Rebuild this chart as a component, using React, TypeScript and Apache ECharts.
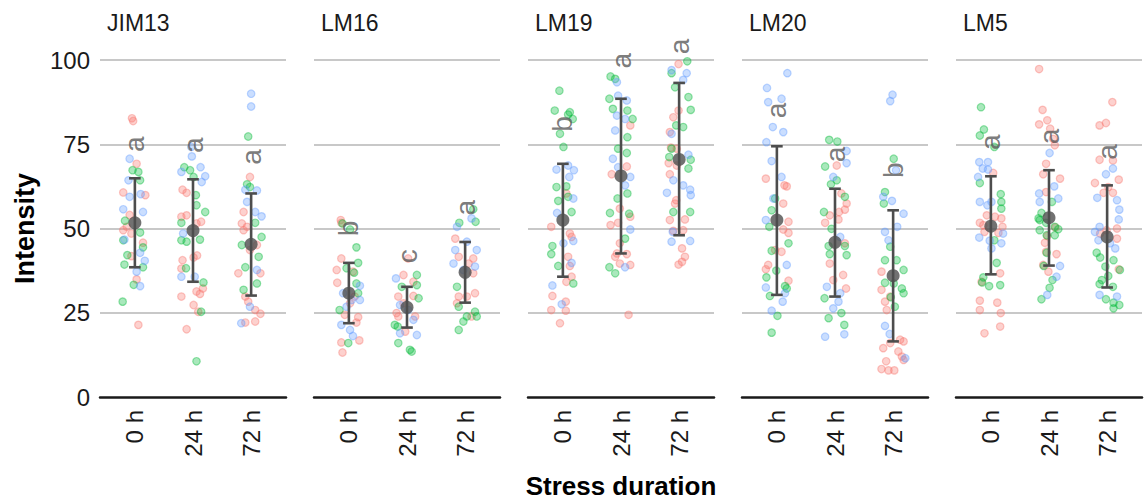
import React, { useEffect, useRef } from "react";
import * as echarts from "echarts";

const FONT = '"Liberation Sans", Arial, Helvetica, sans-serif';

const facets = ["JIM13", "LM16", "LM19", "LM20", "LM5"];
const times = ["0 h", "24 h", "72 h"];
const yTicks = [0, 25, 50, 75, 100];

// [time index, replicate colour index (0 red, 1 green, 2 blue), jitter offset, intensity]
const jim13Points = [
  [0,0,-0.05,82.7],[0,0,-0.03,81.9],[0,2,-0.09,70.7],[0,0,0.03,69.2],[0,1,-0.04,67.3],[0,1,0.06,66.8],
  [0,2,-0.11,64.3],[0,1,0.09,64.3],[0,0,-0.2,60.7],[0,2,-0.09,59.4],[0,2,0.1,60.2],[0,0,0.18,59.9],
  [0,2,-0.2,55.7],[0,2,0.14,54.9],[0,0,-0.09,54.0],[0,1,-0.17,52.3],[0,0,-0.14,50.5],[0,0,-0.2,49.5],
  [0,1,0.09,48.8],[0,0,-0.06,48.5],[0,1,-0.2,46.5],[0,2,-0.18,46.7],[0,0,0.14,45.8],[0,1,0.14,44.4],
  [0,2,0.09,42.8],[0,0,-0.06,41.8],[0,1,-0.13,42.1],[0,1,-0.18,39.3],[0,2,0.17,40.4],[0,1,0.14,38.5],
  [0,2,0.03,37.2],[0,0,0.03,34.9],[0,1,-0.02,33.3],[0,2,0.09,32.9],[0,1,-0.21,28.3],[0,0,0.06,21.4],
  [1,2,-0.03,74.2],[1,2,-0.02,71.4],[1,1,-0.15,68.2],[1,2,0.13,68.2],[1,1,-0.05,67.3],[1,2,-0.2,66.8],
  [1,2,0.21,65.5],[1,2,0.15,63.8],[1,1,0.01,65.3],[1,0,-0.18,61.5],[1,0,-0.11,60.6],[1,1,0.05,59.9],
  [1,1,0.06,56.9],[1,1,0.21,54.9],[1,0,-0.2,53.5],[1,0,-0.11,53.9],[1,0,0.14,52.0],[1,1,-0.2,51.7],
  [1,0,0.06,51.5],[1,2,-0.17,48.5],[1,1,-0.2,46.5],[1,1,-0.11,46.1],[1,1,0.12,46.7],[1,0,-0.18,40.6],
  [1,0,0.01,41.4],[1,0,0.07,42.0],[1,1,-0.12,38.2],[1,0,-0.2,38.1],[1,2,-0.2,35.7],[1,2,0.03,35.7],
  [1,1,0.18,34.0],[1,0,0.17,32.2],[1,0,0.06,31.3],[1,0,0.12,30.6],[1,0,-0.2,29.8],[1,0,0.01,27.3],
  [1,0,0.09,25.3],[1,1,0.14,25.3],[1,0,-0.11,20.1],[1,1,0.06,10.6],
  [2,2,0,90.0],[2,2,0,86.2],[2,1,-0.05,77.3],[2,0,-0.02,65.3],[2,1,-0.07,63.1],[2,1,-0.02,62.3],
  [2,2,-0.1,61.5],[2,2,0.1,61.3],[2,2,-0.07,57.9],[2,0,-0.13,54.9],[2,2,0.07,54.9],[2,2,0.18,53.6],
  [2,0,-0.16,51.5],[2,0,-0.07,50.5],[2,1,0.07,51.7],[2,0,-0.13,49.5],[2,1,0.18,47.5],[2,0,0.1,45.1],
  [2,1,-0.16,45.1],[2,0,-0.02,43.6],[2,1,0.13,41.6],[2,0,-0.22,36.7],[2,1,-0.1,38.5],[2,2,0.1,37.7],
  [2,0,0.16,36.7],[2,1,-0.13,31.8],[2,1,0.1,33.7],[2,0,-0.1,29.8],[2,0,-0.05,28.3],[2,2,-0.02,26.8],
  [2,0,0.07,25.8],[2,0,0.16,24.7],[2,2,-0.17,21.9],[2,0,-0.1,22.1],[2,0,0.07,22.4],
];

const lm16Points = [
  [0,0,-0.14,52.5],[0,0,-0.13,51.7],[0,1,-0.11,51.5],[0,1,0.02,49.7],[0,1,0.13,44.4],[0,0,-0.13,41.1],
  [0,1,0.16,39.8],[0,0,-0.21,37.7],[0,1,-0.04,38.2],[0,0,0.07,37.2],[0,1,0.09,36.9],[0,0,-0.2,33.9],
  [0,1,0.13,33.7],[0,2,0.19,33.0],[0,2,-0.1,30.8],[0,1,0.16,30.8],[0,0,0.1,29.8],[0,2,0.05,28.8],
  [0,2,0.19,28.8],[0,0,0.02,27.8],[0,2,-0.04,26.8],[0,1,-0.16,25.8],[0,0,-0.07,24.4],[0,0,0.16,23.7],
  [0,0,0.13,22.1],[0,2,-0.13,21.4],[0,2,0.02,19.9],[0,2,0.07,18.1],[0,0,-0.13,16.2],[0,0,0.18,16.8],
  [0,1,-0.01,16.0],[0,0,-0.11,13.2],
  [1,0,0.02,41.1],[1,2,-0.19,35.2],[1,0,-0.06,36.2],[1,1,0.17,36.2],[1,0,0.11,34.2],[1,1,-0.09,32.7],
  [1,1,0.17,33.2],[1,0,-0.15,29.8],[1,0,0.11,30.0],[1,2,-0.12,27.3],[1,0,-0.06,27.8],[1,1,0.2,29.3],
  [1,2,0.02,25.8],[1,0,-0.18,24.9],[1,0,-0.15,23.9],[1,0,0.14,23.9],[1,2,0.11,22.9],[1,1,-0.21,21.4],
  [1,1,-0.16,20.9],[1,2,-0.12,18.9],[1,2,0.17,18.4],[1,0,-0.03,19.4],[1,1,-0.15,16.0],[1,1,0.05,14.0],
  [1,1,0.08,13.5],
  [2,1,0.14,55.7],[2,1,-0.1,51.7],[2,1,0.18,52.0],[2,2,0.11,53.0],[2,2,-0.14,50.5],[2,0,-0.17,47.0],
  [2,2,0.03,46.1],[2,2,-0.17,43.6],[2,2,0.2,43.6],[2,0,0.14,41.1],[2,0,-0.11,41.6],[2,2,-0.2,39.6],
  [2,0,0.06,39.6],[2,2,0.17,38.7],[2,2,-0.03,37.7],[2,0,0.14,36.7],[2,1,-0.14,32.7],[2,0,-0.14,27.8],
  [2,0,-0.11,29.8],[2,0,0.03,29.8],[2,0,0.17,30.8],[2,1,-0.11,26.8],[2,1,0.17,25.3],[2,1,0.2,23.9],
  [2,0,0.11,23.9],[2,1,0.03,23.9],[2,1,-0.03,22.4],[2,1,-0.11,19.9],
];

const lm19Points = [
  [0,1,-0.06,90.9],[0,1,-0.14,85.0],[0,1,0.12,84.5],[0,1,0.09,83.8],[0,1,0.17,82.5],[0,1,-0.05,78.1],
  [0,1,0.01,74.2],[0,2,0.09,68.7],[0,2,-0.11,67.5],[0,2,0.19,67.3],[0,2,0.11,65.3],[0,1,-0.11,62.3],
  [0,1,0.06,62.5],[0,0,0.06,60.4],[0,1,0.09,59.4],[0,2,0.18,58.9],[0,1,-0.08,58.2],[0,1,0.15,54.9],
  [0,2,-0.1,54.6],[0,0,-0.2,50.5],[0,0,0.12,48.5],[0,0,0.15,47.5],[0,2,0.18,46.3],[0,2,0.01,45.6],
  [0,1,-0.18,44.8],[0,1,-0.2,42.4],[0,0,0.09,41.6],[0,1,-0.08,38.9],[0,2,0.15,39.8],[0,0,0.12,38.9],
  [0,0,0.15,35.7],[0,0,0.06,34.2],[0,1,0.18,33.7],[0,2,-0.18,33.1],[0,0,-0.18,30.0],[0,0,0.05,28.3],
  [0,2,-0.02,27.5],[0,0,-0.2,25.8],[0,0,0.05,25.6],[0,0,-0.05,21.9],
  [1,1,-0.18,95.1],[1,1,-0.1,94.4],[1,2,-0.07,93.4],[1,2,-0.05,89.4],[1,1,-0.2,88.5],[1,2,0.1,88.0],
  [1,1,-0.14,85.5],[1,1,0.11,85.0],[1,2,-0.07,83.5],[1,1,0.2,82.5],[1,2,0.07,82.5],[1,0,0.16,80.6],
  [1,2,-0.1,79.1],[1,1,0.11,77.1],[1,1,-0.05,73.7],[1,1,0.1,72.4],[1,2,-0.14,70.7],[1,0,0.1,68.4],
  [1,2,-0.05,68.2],[1,0,-0.16,66.1],[1,2,0.16,65.3],[1,2,0.07,62.8],[1,1,0.11,60.4],[1,1,-0.06,58.9],
  [1,0,-0.02,55.9],[1,1,-0.19,54.6],[1,1,0.14,54.4],[1,0,0.16,53.5],[1,0,-0.05,51.7],[1,0,-0.18,51.0],
  [1,2,0.16,49.7],[1,1,0.07,47.0],[1,0,-0.02,45.6],[1,0,-0.07,42.6],[1,0,0.1,42.4],[1,0,-0.1,41.6],
  [1,0,-0.02,39.6],[1,0,0.16,39.2],[1,2,0.07,38.5],[1,1,-0.2,38.5],[1,1,-0.1,36.7],[1,0,0.13,24.4],
  [2,1,0.14,99.6],[2,0,-0.01,98.8],[2,2,-0.13,97.0],[2,1,-0.13,96.1],[2,2,0.13,96.1],[2,2,0.07,94.1],
  [2,1,-0.07,91.9],[2,1,0.16,89.0],[2,1,0.2,85.2],[2,0,-0.01,85.0],[2,0,-0.1,83.0],[2,1,-0.05,80.6],
  [2,1,0.07,80.1],[2,0,-0.16,78.6],[2,2,-0.13,78.1],[2,0,-0.14,74.0],[2,1,-0.13,73.7],[2,0,-0.04,73.7],
  [2,2,0.16,71.9],[2,1,-0.17,71.2],[2,1,0.2,70.4],[2,0,-0.18,69.4],[2,0,-0.04,68.7],[2,1,0.16,67.8],
  [2,0,-0.16,66.1],[2,2,-0.1,64.3],[2,2,0.07,62.8],[2,2,0.19,61.5],[2,2,-0.21,60.6],[2,2,0.2,59.9],
  [2,0,-0.05,58.4],[2,0,-0.07,57.4],[2,1,-0.1,54.9],[2,1,0.19,54.9],[2,0,-0.16,52.5],[2,0,0.1,52.7],
  [2,0,-0.1,49.3],[2,2,-0.11,49.0],[2,0,0.07,49.5],[2,2,-0.13,46.1],[2,2,0.19,46.3],[2,0,0.05,44.1],
  [2,0,0.1,41.6],[2,0,0.05,40.1],[2,0,-0.01,39.3],
];

const lm20Points = [
  [0,2,0.18,96.1],[0,2,-0.17,91.7],[0,2,0.08,88.5],[0,2,-0.15,87.5],[0,2,-0.07,80.1],[0,2,0.11,78.6],
  [0,2,-0.18,75.6],[0,2,-0.09,70.0],[0,2,0.08,65.3],[0,0,-0.19,64.8],[0,0,0.13,62.8],[0,0,0.17,62.5],
  [0,2,-0.06,58.9],[0,1,-0.03,58.9],[0,0,0.11,57.4],[0,1,-0.09,55.4],[0,2,-0.19,52.5],[0,0,0.2,52.0],
  [0,1,-0.13,50.5],[0,0,0.11,49.7],[0,0,0.2,48.7],[0,1,0.2,45.6],[0,0,-0.03,43.6],[0,1,-0.09,43.4],
  [0,0,0.08,43.1],[0,2,0.17,39.2],[0,0,-0.15,39.2],[0,0,-0.19,37.9],[0,1,-0.01,37.5],[0,1,-0.18,35.5],
  [0,0,0.2,34.5],[0,1,0.14,32.9],[0,2,-0.19,32.5],[0,1,0.17,32.2],[0,2,0.14,30.8],[0,1,-0.12,30.0],
  [0,2,0.1,28.3],[0,2,-0.09,25.6],[0,1,0.01,24.1],[0,1,-0.09,19.1],
  [1,1,-0.1,76.3],[1,1,0.04,75.8],[1,2,0.2,73.0],[1,2,0.2,69.4],[1,1,-0.17,68.4],[1,0,0.03,68.7],
  [1,2,-0.03,65.3],[1,1,0.03,64.3],[1,1,-0.07,63.1],[1,0,0.11,60.4],[1,1,0.17,59.4],[1,0,0.2,57.4],
  [1,0,0.17,55.6],[1,1,-0.19,54.9],[1,0,0.07,54.9],[1,0,-0.09,53.9],[1,0,0.06,52.7],[1,0,-0.17,51.7],
  [1,1,-0.06,49.9],[1,2,0.09,47.5],[1,0,0.17,45.6],[1,1,-0.11,44.8],[1,1,0.17,44.8],[1,1,-0.09,42.4],
  [1,1,0.2,42.1],[1,0,-0.09,39.6],[1,0,0.14,36.2],[1,0,-0.03,34.7],[1,2,-0.14,32.7],[1,0,0.19,32.2],
  [1,2,0.09,30.8],[1,1,-0.18,29.3],[1,2,0.06,28.3],[1,2,-0.03,26.3],[1,1,0.11,24.9],[1,1,-0.11,23.4],
  [1,1,0.16,21.4],[1,2,-0.17,17.9],[1,2,0.16,18.6],
  [2,2,-0.01,89.7],[2,2,-0.05,87.8],[2,1,0.01,70.7],[2,2,0.05,67.3],[2,1,-0.14,60.8],[2,2,-0.17,59.4],
  [2,2,-0.02,58.2],[2,1,-0.16,57.4],[2,2,0.18,54.4],[2,2,0.07,50.5],[2,2,-0.14,49.0],[2,2,-0.08,46.5],
  [2,1,-0.05,44.6],[2,1,-0.14,40.6],[2,1,0.06,40.6],[2,1,0.18,37.7],[2,0,-0.2,37.2],[2,1,-0.14,33.9],
  [2,1,0.01,33.7],[2,1,0.15,32.2],[2,1,0.18,30.8],[2,0,-0.2,31.8],[2,0,-0.05,29.8],[2,1,-0.04,29.6],
  [2,0,-0.14,28.3],[2,1,0.03,26.8],[2,0,-0.11,25.8],[2,2,-0.14,21.1],[2,2,-0.06,18.7],[2,0,0.12,17.0],
  [2,0,0.18,16.5],[2,0,-0.05,16.0],[2,0,-0.17,14.5],[2,0,0.09,13.5],[2,0,0.15,12.0],[2,2,0.21,11.5],
  [2,0,0.18,11.0],[2,0,-0.12,10.6],[2,0,-0.2,8.3],[2,0,-0.08,7.9],[2,0,0.02,7.9],
];

const lm5Points = [
  [0,1,-0.17,86.0],[0,1,-0.12,79.4],[0,1,-0.19,77.6],[0,1,0.06,74.2],[0,2,-0.2,69.7],[0,2,-0.05,69.7],
  [0,2,-0.14,67.8],[0,2,-0.05,67.5],[0,0,0.04,66.5],[0,2,-0.22,65.3],[0,1,-0.19,63.5],[0,1,0.17,60.2],
  [0,1,0.18,57.9],[0,2,-0.19,57.9],[0,2,0.01,57.9],[0,2,-0.06,56.9],[0,1,0.18,55.9],[0,0,-0.07,53.9],
  [0,0,0.07,53.5],[0,0,0.18,53.0],[0,0,-0.19,51.7],[0,0,-0.13,51.0],[0,0,0.2,50.5],[0,0,-0.11,49.0],
  [0,0,0.13,48.7],[0,2,0.21,48.5],[0,2,-0.2,47.3],[0,1,0.06,46.5],[0,2,-0.02,46.4],[0,2,0.18,45.6],
  [0,2,0.01,44.1],[0,1,0.1,39.8],[0,0,0.16,36.7],[0,1,-0.13,35.5],[0,0,-0.16,34.2],[0,1,-0.15,34.0],
  [0,1,-0.03,32.9],[0,1,0.16,33.2],[0,0,-0.19,28.6],[0,0,0.11,28.0],[0,0,-0.19,25.8],[0,0,0.17,24.9],
  [0,0,0.16,20.9],[0,0,-0.11,18.9],
  [1,0,-0.17,97.3],[1,0,-0.11,85.2],[1,0,-0.03,82.1],[1,0,-0.17,80.9],[1,0,0.02,79.6],[1,0,0.07,76.6],
  [1,0,0.1,74.7],[1,2,0.01,72.4],[1,0,-0.05,69.2],[1,0,-0.1,66.1],[1,0,0.19,64.8],[1,2,0.09,62.5],
  [1,0,-0.05,60.8],[1,2,-0.17,60.4],[1,2,0.16,58.9],[1,2,-0.16,57.9],[1,1,0.05,57.9],[1,1,-0.13,54.6],
  [1,1,-0.18,53.0],[1,1,-0.16,52.5],[1,1,-0.05,51.7],[1,1,0.1,50.5],[1,0,0.11,50.3],[1,1,-0.16,49.5],
  [1,1,0.16,49.8],[1,1,-0.04,48.0],[1,0,-0.03,47.8],[1,1,0.1,48.0],[1,0,-0.07,45.8],[1,0,-0.05,43.1],
  [1,1,-0.04,42.8],[1,0,0.13,42.4],[1,2,0.19,38.9],[1,0,-0.1,39.2],[1,1,-0.09,38.9],[1,0,-0.01,37.2],
  [1,2,0.13,35.7],[1,1,0.06,34.7],[1,1,0.01,32.4],[1,2,-0.03,30.3],[1,1,-0.13,29.0],
  [2,0,0.09,87.5],[2,0,-0.02,81.3],[2,0,-0.13,80.6],[2,0,-0.13,70.4],[2,0,0.1,70.2],[2,2,0.1,67.8],
  [2,2,-0.02,66.1],[2,0,0.2,64.5],[2,0,-0.21,63.5],[2,0,0.02,62.3],[2,0,-0.06,60.6],[2,0,0.1,60.6],
  [2,2,-0.17,59.1],[2,2,0.17,58.4],[2,2,0.21,55.6],[2,2,0.2,52.7],[2,2,-0.13,50.5],[2,0,0.17,50.0],
  [2,0,-0.01,49.5],[2,2,-0.21,49.0],[2,0,-0.12,48.5],[2,2,-0.15,46.5],[2,0,0.17,47.0],[2,2,0.05,45.6],
  [2,2,0.14,44.1],[2,1,-0.18,42.8],[2,1,-0.12,41.4],[2,1,0.11,40.6],[2,1,-0.03,38.7],[2,1,0.22,37.7],
  [2,0,0.2,37.9],[2,1,0.02,35.9],[2,1,-0.09,34.7],[2,1,-0.13,33.5],[2,1,0.1,32.7],[2,2,-0.13,30.3],
  [2,2,0.17,29.8],[2,1,-0.02,29.0],[2,1,0.11,28.0],[2,1,0.21,27.3],[2,1,0.11,26.3],
];

const pointSets = [jim13Points, lm16Points, lm19Points, lm20Points, lm5Points];

const meanValues = [
  [51.7, 49.4, 45.3],
  [30.8, 26.6, 37.0],
  [52.5, 65.6, 70.5],
  [52.5, 45.9, 36.0],
  [50.7, 53.2, 47.5],
];
const upperValues = [
  [64.9, 64.6, 60.4],
  [39.8, 32.7, 46.0],
  [69.2, 88.5, 93.2],
  [74.4, 61.8, 55.4],
  [65.5, 67.3, 62.8],
];
const lowerValues = [
  [38.5, 34.2, 30.1],
  [21.9, 20.6, 28.0],
  [35.7, 42.6, 48.0],
  [30.3, 29.8, 16.5],
  [36.4, 39.0, 32.5],
];
const letters = [
  ["a", "a", "a"],
  ["b", "c", "a"],
  ["b", "a", "a"],
  ["a", "a", "b"],
  ["a", "a", "a"],
];
const letterPositions = [
  [75.0, 74.7, 71.2],
  [50.0, 41.8, 56.2],
  [81.0, 99.8, 104.0],
  [85.0, 72.0, 67.3],
  [75.6, 77.3, 72.7],
];

const replicateColors = ["248,118,109", "0,186,56", "97,156,255"];

const PANEL_LEFT = 100;
const PANEL_STEP = 214;
const PANEL_WIDTH = 186;
const PANEL_TOP = 60;
const PANEL_HEIGHT = 337;

export default function App() {
  const ref = useRef<HTMLDivElement>(null);

  useEffect(() => {
    if (!ref.current) return;
    const chart = echarts.init(ref.current, null, { renderer: "svg" });

    const grid: any[] = [];
    const xAxis: any[] = [];
    const yAxis: any[] = [];
    const title: any[] = [];
    const series: any[] = [];

    facets.forEach((name, i) => {
      grid.push({
        left: PANEL_LEFT + i * PANEL_STEP,
        top: PANEL_TOP,
        width: PANEL_WIDTH,
        height: PANEL_HEIGHT,
        containLabel: false,
      });
      title.push({
        text: name,
        left: PANEL_LEFT + i * PANEL_STEP + 7,
        top: 11,
        padding: 0,
        textStyle: { fontFamily: FONT, fontSize: 23, fontWeight: "normal", color: "#1a1a1a" },
      });
      xAxis.push({
        type: "value",
        gridIndex: i,
        min: 0.4,
        max: 3.6,
        axisLine: { show: true, lineStyle: { color: "#1a1a1a", width: 2.5 } },
        axisTick: { show: false },
        splitLine: { show: false },
        axisLabel: {
          show: true,
          customValues: [1, 2, 3],
          formatter: (v: number) => times[Math.round(v) - 1] ?? "",
          rotate: 90,
          margin: 13,
          fontSize: 24,
          fontFamily: FONT,
          color: "#1a1a1a",
        },
      });
      yAxis.push({
        type: "value",
        gridIndex: i,
        min: 0,
        max: 100,
        interval: 25,
        axisLine: { show: false },
        axisTick: { show: false },
        splitLine: { show: true, showMinLine: false, lineStyle: { color: "#c8c8c8", width: 2.2 } },
        axisLabel: {
          show: i === 0,
          margin: 10,
          fontSize: 24,
          fontFamily: FONT,
          color: "#1a1a1a",
          formatter: (v: number) => (yTicks.includes(v) ? String(v) : ""),
        },
      });

      const pts = pointSets[i];
      replicateColors.forEach((rgb, c) => {
        series.push({
          type: "scatter",
          xAxisIndex: i,
          yAxisIndex: i,
          z: 2,
          symbolSize: 7.5,
          itemStyle: {
            color: `rgba(${rgb},0.42)`,
            borderColor: `rgba(${rgb},0.5)`,
            borderWidth: 1.2,
          },
          data: pts.filter((p) => p[1] === c).map((p) => [p[0] + 1 + p[2], p[3]]),
        });
      });

      series.push({
        type: "custom",
        xAxisIndex: i,
        yAxisIndex: i,
        z: 3,
        data: times.map((_, t) => [t + 1, lowerValues[i][t], upperValues[i][t]]),
        renderItem: (_params: any, api: any) => {
          const x = api.value(0);
          const lo = api.value(1);
          const hi = api.value(2);
          const top = api.coord([x, hi]);
          const bot = api.coord([x, lo]);
          const tl = api.coord([x - 0.1, hi]);
          const tr = api.coord([x + 0.1, hi]);
          const bl = api.coord([x - 0.1, lo]);
          const br = api.coord([x + 0.1, lo]);
          const style = { stroke: "#4d4d4d", lineWidth: 2.6 };
          return {
            type: "group",
            children: [
              { type: "line", shape: { x1: top[0], y1: top[1], x2: bot[0], y2: bot[1] }, style },
              { type: "line", shape: { x1: tl[0], y1: tl[1], x2: tr[0], y2: tr[1] }, style },
              { type: "line", shape: { x1: bl[0], y1: bl[1], x2: br[0], y2: br[1] }, style },
            ],
          };
        },
      });

      series.push({
        type: "scatter",
        xAxisIndex: i,
        yAxisIndex: i,
        z: 4,
        symbolSize: 13,
        itemStyle: { color: "#4d4d4d" },
        data: times.map((_, t) => [t + 1, meanValues[i][t]]),
      });

      series.push({
        type: "scatter",
        xAxisIndex: i,
        yAxisIndex: i,
        z: 5,
        clip: false,
        symbolSize: 1,
        itemStyle: { color: "rgba(0,0,0,0)" },
        label: {
          show: true,
          position: "inside",
          rotate: 90,
          align: "center",
          verticalAlign: "middle",
          fontSize: 28,
          fontFamily: FONT,
          color: "#595959",
          formatter: (p: any) => p.data.letter,
        },
        data: times.map((_, t) => ({ value: [t + 1, letterPositions[i][t]], letter: letters[i][t] })),
      });
    });

    chart.setOption({
      animation: false,
      backgroundColor: "#ffffff",
      title,
      grid,
      xAxis,
      yAxis,
      series,
      graphic: [
        {
          type: "text",
          x: 25,
          y: PANEL_TOP + PANEL_HEIGHT / 2,
          rotation: Math.PI / 2,
          style: {
            text: "Intensity",
            textAlign: "center",
            textVerticalAlign: "middle",
            font: `bold 27px ${FONT}`,
            fill: "#000000",
          },
        },
        {
          type: "text",
          x: PANEL_LEFT + (4 * PANEL_STEP + PANEL_WIDTH) / 2,
          y: 486,
          style: {
            text: "Stress duration",
            textAlign: "center",
            textVerticalAlign: "middle",
            font: `bold 26px ${FONT}`,
            fill: "#000000",
          },
        },
      ],
    });

    return () => chart.dispose();
  }, []);

  return (
    <div
      ref={ref}
      style={{ position: "absolute", left: 0, top: 0, width: 1146, height: 500, background: "#fff" }}
    />
  );
}
